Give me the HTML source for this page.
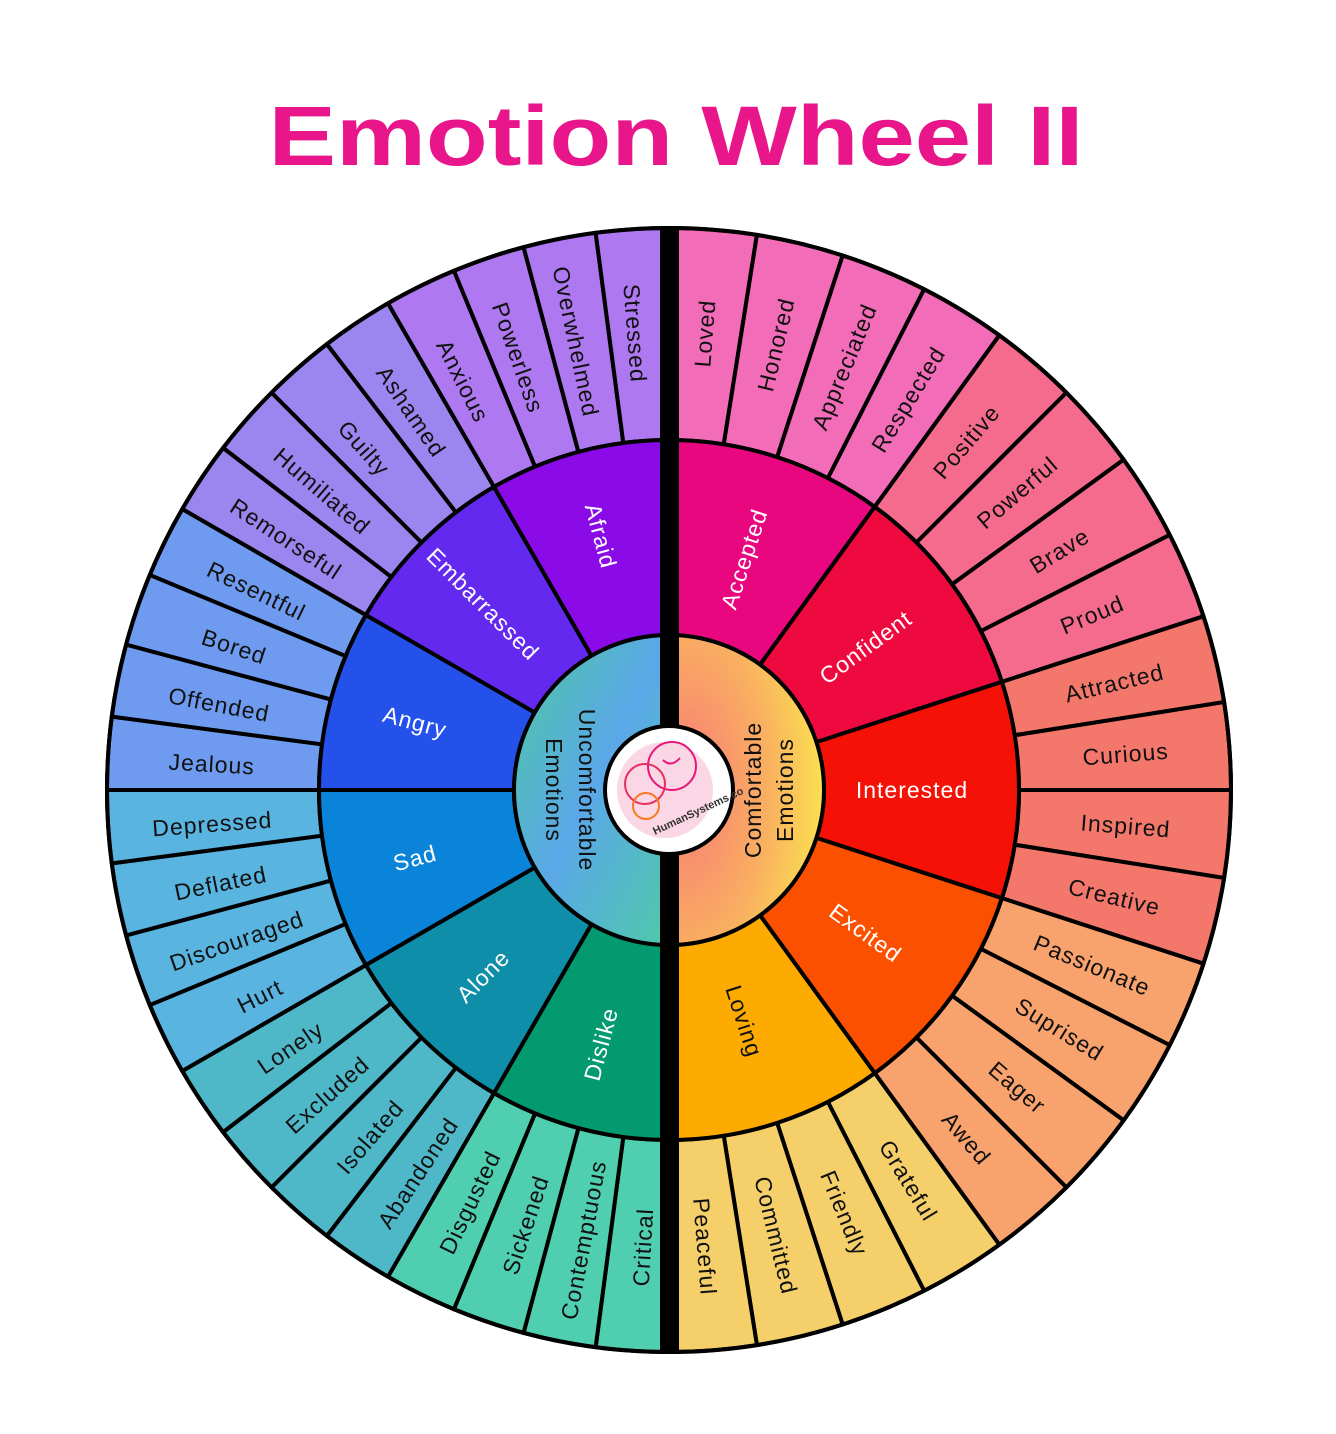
<!DOCTYPE html>
<html><head><meta charset="utf-8"><style>
html,body{margin:0;padding:0;background:#fff;}
svg{display:block}
text{font-family:"Liberation Sans","DejaVu Sans",sans-serif;}
</style></head><body>
<svg width="1336" height="1434" viewBox="0 0 1336 1434" xmlns="http://www.w3.org/2000/svg">
<defs>
<path id="o9" d="M0,-562 A562,562 0 0 1 87.92,-555.08 L54.75,-345.69 A350,350 0 0 0 0,-350 Z"/>
<path id="o75" d="M0,-562 A562,562 0 0 1 73.36,-557.19 L45.68,-347.01 A350,350 0 0 0 0,-350 Z"/>
<path id="m36" d="M0,-350 A350,350 0 0 1 205.72,-283.16 L91.11,-125.40 A155,155 0 0 0 0,-155 Z"/>
<path id="m30" d="M0,-350 A350,350 0 0 1 175,-303.11 L77.5,-134.23 A155,155 0 0 0 0,-155 Z"/>
<linearGradient id="gl" x1="0" y1="0" x2="1" y2="1"><stop offset="0" stop-color="#4fc7a0"/><stop offset="0.5" stop-color="#5aa8e8"/><stop offset="1" stop-color="#4fc9a8"/></linearGradient>
<radialGradient id="gr" cx="0.1" cy="0.5" r="0.9"><stop offset="0" stop-color="#f87a78"/><stop offset="0.6" stop-color="#f9b060"/><stop offset="1" stop-color="#fbe050"/></radialGradient>
</defs>
<text x="676" y="165" text-anchor="middle" font-size="84" font-weight="bold" fill="#e8168a" textLength="815" lengthAdjust="spacingAndGlyphs">Emotion Wheel II</text>

<g transform="translate(669,790)" stroke="#000" stroke-width="4" stroke-linejoin="round">
<g fill="#f36cb8">
<use href="#o9" transform="rotate(0)"/><use href="#o9" transform="rotate(9)"/><use href="#o9" transform="rotate(18)"/><use href="#o9" transform="rotate(27)"/></g>
<g fill="#f46b8e">
<use href="#o9" transform="rotate(36)"/><use href="#o9" transform="rotate(45)"/><use href="#o9" transform="rotate(54)"/><use href="#o9" transform="rotate(63)"/></g>
<g fill="#f4776c">
<use href="#o9" transform="rotate(72)"/><use href="#o9" transform="rotate(81)"/><use href="#o9" transform="rotate(90)"/><use href="#o9" transform="rotate(99)"/></g>
<g fill="#f8a26d">
<use href="#o9" transform="rotate(108)"/><use href="#o9" transform="rotate(117)"/><use href="#o9" transform="rotate(126)"/><use href="#o9" transform="rotate(135)"/></g>
<g fill="#f5d06a">
<use href="#o9" transform="rotate(144)"/><use href="#o9" transform="rotate(153)"/><use href="#o9" transform="rotate(162)"/><use href="#o9" transform="rotate(171)"/></g>
<g fill="#4fcfaf">
<use href="#o75" transform="rotate(180)"/><use href="#o75" transform="rotate(187.5)"/><use href="#o75" transform="rotate(195)"/><use href="#o75" transform="rotate(202.5)"/></g>
<g fill="#4fb8c8">
<use href="#o75" transform="rotate(210)"/><use href="#o75" transform="rotate(217.5)"/><use href="#o75" transform="rotate(225)"/><use href="#o75" transform="rotate(232.5)"/></g>
<g fill="#5ab4e0">
<use href="#o75" transform="rotate(240)"/><use href="#o75" transform="rotate(247.5)"/><use href="#o75" transform="rotate(255)"/><use href="#o75" transform="rotate(262.5)"/></g>
<g fill="#6e9bef">
<use href="#o75" transform="rotate(270)"/><use href="#o75" transform="rotate(277.5)"/><use href="#o75" transform="rotate(285)"/><use href="#o75" transform="rotate(292.5)"/></g>
<g fill="#9a86ee">
<use href="#o75" transform="rotate(300)"/><use href="#o75" transform="rotate(307.5)"/><use href="#o75" transform="rotate(315)"/><use href="#o75" transform="rotate(322.5)"/></g>
<g fill="#ae78f0">
<use href="#o75" transform="rotate(330)"/><use href="#o75" transform="rotate(337.5)"/><use href="#o75" transform="rotate(345)"/><use href="#o75" transform="rotate(352.5)"/></g>
<use href="#m36" transform="rotate(0)" fill="#e8077e"/>
<use href="#m36" transform="rotate(36)" fill="#ee0a3f"/>
<use href="#m36" transform="rotate(72)" fill="#f51105"/>
<use href="#m36" transform="rotate(108)" fill="#fb5000"/>
<use href="#m36" transform="rotate(144)" fill="#fdab00"/>
<use href="#m30" transform="rotate(180)" fill="#049a6f"/>
<use href="#m30" transform="rotate(210)" fill="#0e8ea8"/>
<use href="#m30" transform="rotate(240)" fill="#0a84d8"/>
<use href="#m30" transform="rotate(270)" fill="#2451ea"/>
<use href="#m30" transform="rotate(300)" fill="#6429ef"/>
<use href="#m30" transform="rotate(330)" fill="#8a0ae8"/>
<path d="M0,-155 A155,155 0 0 1 0,155 Z" fill="url(#gr)"/>
<path d="M0,155 A155,155 0 0 1 0,-155 Z" fill="url(#gl)"/>
<circle r="562" fill="none"/>
</g>
<rect x="660" y="226" width="19" height="1128" fill="#000"/>
<circle cx="669" cy="790" r="64" fill="#fff" stroke="#000" stroke-width="4"/>
<circle cx="665" cy="790" r="48" fill="#fbd6e4"/>
<circle cx="672" cy="766" r="24" fill="none" stroke="#e8167a" stroke-width="2"/>
<path d="M663,760 q8,8 17,-2" fill="none" stroke="#e8167a" stroke-width="2"/>
<circle cx="645" cy="784" r="20" fill="none" stroke="#e83060" stroke-width="2"/>
<circle cx="646" cy="806" r="13" fill="none" stroke="#f87a20" stroke-width="2"/>
<text x="655" y="835" font-size="11" font-weight="bold" fill="#333" transform="rotate(-25 655 835)">HumanSystems.co</text>

<g font-size="23" fill="#111" dominant-baseline="central" text-anchor="middle" letter-spacing="1">
<text x="1127" y="790" transform="rotate(-85.5 669 790)">Loved</text>
<text x="1127" y="790" transform="rotate(-76.5 669 790)">Honored</text>
<text x="1127" y="790" transform="rotate(-67.5 669 790)">Appreciated</text>
<text x="1127" y="790" transform="rotate(-58.5 669 790)">Respected</text>
<text x="1127" y="790" transform="rotate(-49.5 669 790)">Positive</text>
<text x="1127" y="790" transform="rotate(-40.5 669 790)">Powerful</text>
<text x="1127" y="790" transform="rotate(-31.5 669 790)">Brave</text>
<text x="1127" y="790" transform="rotate(-22.5 669 790)">Proud</text>
<text x="1127" y="790" transform="rotate(-13.5 669 790)">Attracted</text>
<text x="1127" y="790" transform="rotate(-4.5 669 790)">Curious</text>
<text x="1127" y="790" transform="rotate(4.5 669 790)">Inspired</text>
<text x="1127" y="790" transform="rotate(13.5 669 790)">Creative</text>
<text x="1127" y="790" transform="rotate(22.5 669 790)">Passionate</text>
<text x="1127" y="790" transform="rotate(31.5 669 790)">Suprised</text>
<text x="1127" y="790" transform="rotate(40.5 669 790)">Eager</text>
<text x="1127" y="790" transform="rotate(49.5 669 790)">Awed</text>
<text x="1127" y="790" transform="rotate(58.5 669 790)">Grateful</text>
<text x="1127" y="790" transform="rotate(67.5 669 790)">Friendly</text>
<text x="1127" y="790" transform="rotate(76.5 669 790)">Committed</text>
<text x="1127" y="790" transform="rotate(85.5 669 790)">Peaceful</text>
<text x="211" y="790" transform="rotate(85.75 669 790)">Stressed</text>
<text x="211" y="790" transform="rotate(78.25 669 790)">Overwhelmed</text>
<text x="211" y="790" transform="rotate(70.75 669 790)">Powerless</text>
<text x="211" y="790" transform="rotate(63.25 669 790)">Anxious</text>
<text x="211" y="790" transform="rotate(55.75 669 790)">Ashamed</text>
<text x="211" y="790" transform="rotate(48.25 669 790)">Guilty</text>
<text x="211" y="790" transform="rotate(40.75 669 790)">Humiliated</text>
<text x="211" y="790" transform="rotate(33.25 669 790)">Remorseful</text>
<text x="211" y="790" transform="rotate(25.75 669 790)">Resentful</text>
<text x="211" y="790" transform="rotate(18.25 669 790)">Bored</text>
<text x="211" y="790" transform="rotate(10.75 669 790)">Offended</text>
<text x="211" y="790" transform="rotate(3.25 669 790)">Jealous</text>
<text x="211" y="790" transform="rotate(-4.25 669 790)">Depressed</text>
<text x="211" y="790" transform="rotate(-11.75 669 790)">Deflated</text>
<text x="211" y="790" transform="rotate(-19.25 669 790)">Discouraged</text>
<text x="211" y="790" transform="rotate(-26.75 669 790)">Hurt</text>
<text x="211" y="790" transform="rotate(-34.25 669 790)">Lonely</text>
<text x="211" y="790" transform="rotate(-41.75 669 790)">Excluded</text>
<text x="211" y="790" transform="rotate(-49.25 669 790)">Isolated</text>
<text x="211" y="790" transform="rotate(-56.75 669 790)">Abandoned</text>
<text x="211" y="790" transform="rotate(-64.25 669 790)">Disgusted</text>
<text x="211" y="790" transform="rotate(-71.75 669 790)">Sickened</text>
<text x="211" y="790" transform="rotate(-79.25 669 790)">Contemptuous</text>
<text x="211" y="790" transform="rotate(-86.75 669 790)">Critical</text>
</g>
<g font-size="23" fill="#fff" dominant-baseline="central" text-anchor="middle" letter-spacing="1">
<text x="912" y="790" transform="rotate(-72 669 790)">Accepted</text>
<text x="912" y="790" transform="rotate(-36 669 790)">Confident</text>
<text x="912" y="790" transform="rotate(0 669 790)">Interested</text>
<text x="912" y="790" transform="rotate(36 669 790)">Excited</text>
<text x="912" y="790" transform="rotate(72 669 790)" fill="#111">Loving</text>
<text x="406" y="790" transform="rotate(75 669 790)">Afraid</text>
<text x="406" y="790" transform="rotate(45 669 790)">Embarrassed</text>
<text x="406" y="790" transform="rotate(15 669 790)">Angry</text>
<text x="406" y="790" transform="rotate(-15 669 790)">Sad</text>
<text x="406" y="790" transform="rotate(-45 669 790)">Alone</text>
<text x="406" y="790" transform="rotate(-75 669 790)">Dislike</text>
</g>
<g font-size="23" fill="#111" text-anchor="middle" letter-spacing="1">
<text transform="translate(579,790) rotate(90)" y="0">Uncomfortable</text>
<text transform="translate(546,790) rotate(90)" y="0">Emotions</text>
<text transform="translate(761,790) rotate(-90)" y="0">Comfortable</text>
<text transform="translate(793,790) rotate(-90)" y="0">Emotions</text>
</g>
</svg>
</body></html>
